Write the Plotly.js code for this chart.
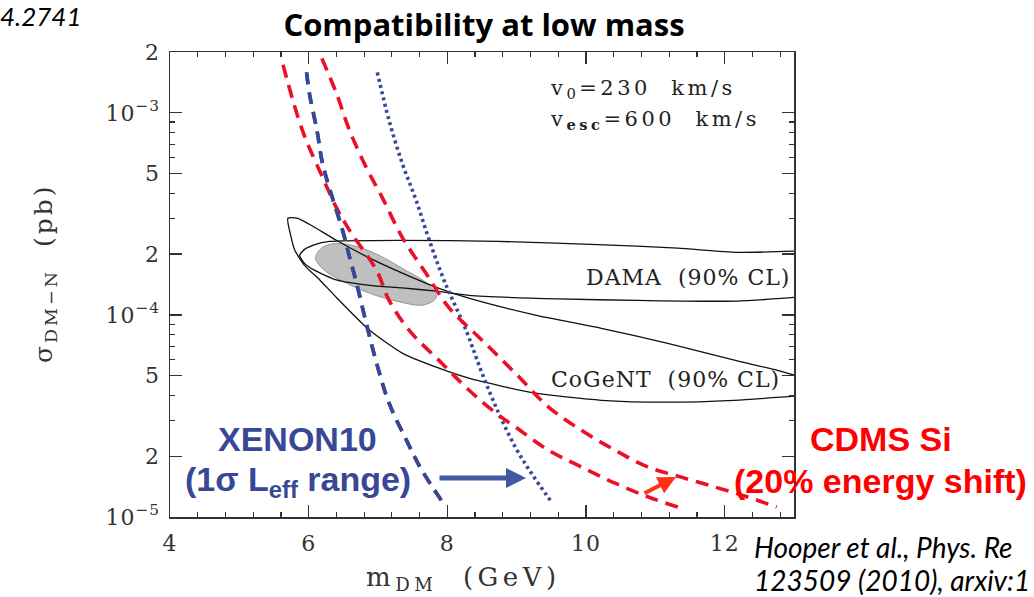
<!DOCTYPE html>
<html>
<head>
<meta charset="utf-8">
<script src="https://cdn.plot.ly/plotly-3.0.1.min.js"></script>
<style>
html,body{margin:0;padding:0;background:#fff;}
#chart{width:1034px;height:597px;}
text[style*="WideA"]{letter-spacing:1px;}
text[style*="WideB"]{letter-spacing:3.5px;}
text[style*="WideC"]{letter-spacing:4.5px;}
text[style*="WideD"]{letter-spacing:3px;}
</style>
</head>
<body>
<div id="chart"></div>
<script>
// ---- Data (m_DM in GeV, sigma in pb) ----
const cdmsLowX = [5.63, 5.91, 6.20, 6.40, 6.59, 6.98, 7.16, 7.45, 7.92, 8.31, 8.70, 8.98, 9.46, 9.93, 10.42, 10.89, 11.36];
const cdmsLowY = [1.73e-3, 8.18e-4, 4.80e-4, 3.40e-4, 2.62e-4, 1.66e-4, 1.18e-4, 8.39e-5, 5.77e-5, 4.25e-5, 3.27e-5, 2.79e-5, 2.14e-5, 1.77e-5, 1.47e-5, 1.26e-5, 1.11e-5];

const cdmsHighX = [6.19, 6.40, 6.59, 6.83, 7.06, 7.35, 7.69, 8.02, 8.50, 8.98, 9.46, 9.93, 10.42, 10.89, 11.36, 11.85, 12.32, 12.75];
const cdmsHighY = [1.86e-3, 1.25e-3, 8.18e-4, 5.37e-4, 3.82e-4, 2.42e-4, 1.61e-4, 1.09e-4, 7.50e-5, 5.15e-5, 3.50e-5, 2.69e-5, 2.14e-5, 1.77e-5, 1.58e-5, 1.41e-5, 1.26e-5, 1.12e-5];

const xenonLowX = [5.97, 6.01, 6.12, 6.20, 6.34, 6.49, 6.59, 6.69, 6.83, 6.98, 7.16, 7.41, 7.63, 7.98];
const xenonLowY = [1.585e-3, 1.25e-3, 8.18e-4, 5.62e-4, 3.82e-4, 2.62e-4, 1.93e-4, 1.44e-4, 9.10e-5, 5.77e-5, 3.66e-5, 2.40e-5, 1.71e-5, 1.12e-5];

const xenonHighX = [6.99, 7.16, 7.35, 7.55, 7.74, 7.95, 8.27, 8.50, 8.74, 8.98, 9.21, 9.50];
const xenonHighY = [1.585e-3, 9.16e-4, 5.62e-4, 3.69e-4, 2.34e-4, 1.49e-4, 8.39e-5, 5.15e-5, 3.27e-5, 2.22e-5, 1.65e-5, 1.19e-5];

const damaX = [13.0, 12.18, 11.32, 10.17, 8.74, 7.31, 6.30, 6.09, 5.94, 5.87, 5.94, 6.09, 6.40, 6.88, 7.35, 7.84, 8.31, 9.60, 10.75, 12.18, 13.0];
const damaY = [2.07e-4, 2.04e-4, 2.14e-4, 2.23e-4, 2.31e-4, 2.34e-4, 2.31e-4, 2.23e-4, 2.11e-4, 1.97e-4, 1.80e-4, 1.66e-4, 1.49e-4, 1.40e-4, 1.36e-4, 1.31e-4, 1.25e-4, 1.20e-4, 1.18e-4, 1.17e-4, 1.22e-4];

const cogentX = [13.0, 12.75, 12.14, 11.18, 10.22, 9.27, 8.31, 7.84, 7.35, 6.88, 6.40, 6.01, 5.83, 5.70, 5.74, 5.80, 5.94, 6.16, 6.40, 6.88, 7.35, 7.84, 8.31, 9.27, 10.22, 11.18, 12.14, 13.0];
const cogentY = [5.04e-5, 5.33e-5, 5.97e-5, 7.24e-5, 8.59e-5, 9.98e-5, 1.21e-4, 1.37e-4, 1.61e-4, 1.91e-4, 2.34e-4, 2.81e-4, 3.01e-4, 3.01e-4, 2.48e-4, 2.09e-4, 1.76e-4, 1.49e-4, 1.22e-4, 8.39e-5, 6.47e-5, 5.51e-5, 4.86e-5, 4.10e-5, 3.78e-5, 3.70e-5, 3.78e-5, 3.96e-5];

const channelX = [6.10, 6.20, 6.44, 6.88, 7.35, 7.74, 7.84, 7.66, 7.31, 6.88, 6.52, 6.23, 6.10];
const channelY = [1.91e-4, 2.16e-4, 2.26e-4, 2.07e-4, 1.70e-4, 1.40e-4, 1.22e-4, 1.12e-4, 1.16e-4, 1.28e-4, 1.45e-4, 1.66e-4, 1.91e-4];

const xTickVals = [4, 6, 8, 10, 12];
const xTickText = ['4', '6', '8', '10', '12'];
const xMinorVals = [4.4, 4.8, 5.2, 5.6, 6.4, 6.8, 7.2, 7.6, 8.4, 8.8, 9.2, 9.6, 10.4, 10.8, 11.2, 11.6, 12.4, 12.8];
const yTickVals = [1e-5, 2e-5, 5e-5, 1e-4, 2e-4, 5e-4, 1e-3, 2e-3];
const yTickText = ['10<sup>−5</sup>', '2', '5', '10<sup>−4</sup>', '2', '5', '10<sup>−3</sup>', '2'];
const yMinorVals = [3e-5, 4e-5, 6e-5, 7e-5, 8e-5, 9e-5, 3e-4, 4e-4, 6e-4, 7e-4, 8e-4, 9e-4];

// ---- Styles ----
const RED = 'rgb(235,16,40)';
const BLUE = 'rgb(56,72,150)';
const AXC = '#333';
const SANS = 'Liberation Sans, Arial, sans-serif';

const traces = [
  {x: channelX, y: channelY, type: 'scatter', mode: 'lines', fill: 'toself',
   fillcolor: 'rgb(190,191,190)', line: {color: 'rgb(150,150,150)', width: 1, shape: 'spline', smoothing: 1}, hoverinfo: 'skip'},
  {x: damaX, y: damaY, type: 'scatter', mode: 'lines', line: {color: '#111', width: 1.3, shape: 'spline', smoothing: 0.6}},
  {x: cogentX, y: cogentY, type: 'scatter', mode: 'lines', line: {color: '#111', width: 1.3, shape: 'spline', smoothing: 0.6}},
  {x: xenonHighX, y: xenonHighY, type: 'scatter', mode: 'lines', line: {color: BLUE, width: 3.6, dash: '3px,3.4px', shape: 'spline'}},
  {x: xenonLowX, y: xenonLowY, type: 'scatter', mode: 'lines', line: {color: BLUE, width: 3.6, dash: '12px,8px', shape: 'spline'}},
  {x: cdmsLowX, y: cdmsLowY, type: 'scatter', mode: 'lines', line: {color: RED, width: 3.6, dash: '13px,8px', shape: 'spline'}},
  {x: cdmsHighX, y: cdmsHighY, type: 'scatter', mode: 'lines', line: {color: RED, width: 3.6, dash: '13px,8px', shape: 'spline'}},
  // the XENON10 line again on the overlay axes, so those axes (minor ticks) are drawn
  {x: xenonLowX, y: xenonLowY, type: 'scatter', mode: 'lines', xaxis: 'x2', yaxis: 'y2', hoverinfo: 'skip',
   line: {color: BLUE, width: 3.6, dash: '12px,8px', shape: 'spline'}}
];

function px2x(px) { return (px - 170) / 624; }
function py2y(py) { return (517 - py) / 465; }

const annotations = [
  {xref: 'paper', yref: 'paper', x: px2x(548), y: py2y(89), xanchor: 'left', yanchor: 'middle', showarrow: false,
   text: 'v<sub>0</sub>=230\u00a0\u00a0km/s', font: {family: 'DejaVu Serif, WideB', size: 21, color: '#222'}},
  {xref: 'paper', yref: 'paper', x: px2x(548), y: py2y(120), xanchor: 'left', yanchor: 'middle', showarrow: false,
   text: 'v<sub><b>esc</b></sub>=600\u00a0\u00a0km/s', font: {family: 'DejaVu Serif, WideB', size: 21, color: '#222'}},
  {xref: 'paper', yref: 'paper', x: px2x(792), y: py2y(277), xanchor: 'right', yanchor: 'middle', showarrow: false,
   text: 'DAMA\u00a0\u00a0(90%\u00a0CL)', font: {family: 'DejaVu Serif, WideA', size: 22, color: '#222'}},
  {xref: 'paper', yref: 'paper', x: px2x(782), y: py2y(379), xanchor: 'right', yanchor: 'middle', showarrow: false,
   text: 'CoGeNT\u00a0\u00a0(90%\u00a0CL)', font: {family: 'DejaVu Serif, WideA', size: 22, color: '#222'}},
  {xref: 'paper', yref: 'paper', x: px2x(297.5), y: py2y(439), xanchor: 'center', yanchor: 'middle', showarrow: false,
   text: '<b>XENON10</b>', font: {family: SANS, size: 34, color: BLUE}},
  {xref: 'paper', yref: 'paper', x: px2x(297.5), y: py2y(481), xanchor: 'center', yanchor: 'middle', showarrow: false,
   text: '<b>(1σ L<sub>eff</sub> range)</b>', font: {family: SANS, size: 34, color: BLUE}},
  {xref: 'paper', yref: 'paper', x: px2x(881), y: py2y(439), xanchor: 'center', yanchor: 'middle', showarrow: false,
   text: '<b>CDMS Si</b>', font: {family: SANS, size: 34, color: 'rgb(255,0,0)'}},
  {xref: 'paper', yref: 'paper', x: px2x(880.5), y: py2y(481), xanchor: 'center', yanchor: 'middle', showarrow: false,
   text: '<b>(20% energy shift)</b>', font: {family: SANS, size: 34, color: 'rgb(255,0,0)'}},
  // axis titles
  {xref: 'paper', yref: 'paper', x: px2x(463), y: py2y(578), xanchor: 'center', yanchor: 'middle', showarrow: false,
   text: 'm<sub>DM</sub>\u00a0\u00a0(GeV)', font: {family: 'DejaVu Serif, WideC', size: 26, color: '#333'}},
  {xref: 'paper', yref: 'paper', x: px2x(45), y: py2y(274), xanchor: 'center', yanchor: 'middle', showarrow: false, textangle: -90,
   text: 'σ<sub>DM−N</sub>\u00a0\u00a0(pb)', font: {family: 'DejaVu Serif, WideD', size: 25, color: '#333'}},
  // arrows
  {xref: 'paper', yref: 'paper', x: px2x(526), y: py2y(478), ax: -88, ay: 0, showarrow: true,
   arrowhead: 2, arrowsize: 0.8, arrowwidth: 5, arrowcolor: 'rgb(66,88,160)', standoff: 0, text: ''},
  {xref: 'paper', yref: 'paper', x: px2x(676), y: py2y(477), ax: -33, ay: 17, showarrow: true,
   arrowhead: 2, arrowsize: 0.9, arrowwidth: 4, arrowcolor: 'rgb(255,50,20)', standoff: 0, text: ''},
  // citation fragments
  {xref: 'paper', yref: 'paper', x: px2x(752), y: py2y(547), xanchor: 'left', yanchor: 'middle', showarrow: false,
   text: '<i>Hooper et al., Phys. Re</i>', font: {family: 'Lato, sans-serif', size: 28, color: '#000'}},
  {xref: 'paper', yref: 'paper', x: px2x(752), y: py2y(580), xanchor: 'left', yanchor: 'middle', showarrow: false,
   text: '<i>123509 (2010), arxiv:1</i>', font: {family: 'Lato, sans-serif', size: 28, color: '#000'}},
  {xref: 'paper', yref: 'paper', x: px2x(-2), y: py2y(16), xanchor: 'left', yanchor: 'middle', showarrow: false,
   text: '<i>4.2741</i>', font: {family: 'Lato, sans-serif', size: 26, color: '#000'}}
];

const axisCommon = {
  showline: true, linecolor: AXC, linewidth: 1.5, mirror: 'ticks',
  showgrid: false, zeroline: false, ticks: 'inside', tickcolor: AXC
};

const layout = {
  width: 1034, height: 597,
  margin: {l: 170, r: 240, t: 52, b: 80, pad: 0},
  paper_bgcolor: '#fff', plot_bgcolor: '#fff',
  showlegend: false,
  title: {text: '<b>Compatibility at low mass</b>', font: {family: 'Open Sans, sans-serif', size: 31, color: '#000'},
          x: 484 / 1034, xref: 'container', xanchor: 'center', y: 1 - 25 / 597, yref: 'container', yanchor: 'middle'},
  xaxis: Object.assign({}, axisCommon, {
    range: [4, 13], tickmode: 'array', tickvals: xTickVals, ticktext: xTickText,
    ticklen: 12, tickwidth: 1.3, ticklabelstandoff: 6,
    minor: {ticks: 'inside', ticklen: 5, tickwidth: 1.2, tickcolor: AXC, tickmode: 'array', tickvals: xMinorVals, showgrid: false},
    tickfont: {family: 'DejaVu Serif, WideA', size: 22, color: '#333'}
  }),
  yaxis: Object.assign({}, axisCommon, {
    type: 'log', range: [-5, Math.log10(2e-3)], tickmode: 'array', tickvals: yTickVals, ticktext: yTickText,
    ticklen: 12, tickwidth: 1.3, ticklabelstandoff: 4,
    minor: {ticks: 'inside', ticklen: 5, tickwidth: 1.2, tickcolor: AXC, tickmode: 'array', tickvals: yMinorVals, showgrid: false},
    tickfont: {family: 'DejaVu Serif, WideA', size: 22, color: '#333'}
  }),
  xaxis2: Object.assign({}, axisCommon, {
    overlaying: 'x', anchor: 'y2', range: [4, 13], tickmode: 'array', tickvals: xMinorVals,
    ticklen: 5, tickwidth: 1.2, showticklabels: false
  }),
  yaxis2: Object.assign({}, axisCommon, {
    overlaying: 'y', anchor: 'x2', type: 'log', range: [-5, Math.log10(2e-3)], tickmode: 'array', tickvals: yMinorVals,
    ticklen: 5, tickwidth: 1.2, showticklabels: false
  }),
  annotations: annotations
};

Plotly.newPlot('chart', traces, layout, {displayModeBar: false, staticPlot: true});
</script>
</body>
</html>
